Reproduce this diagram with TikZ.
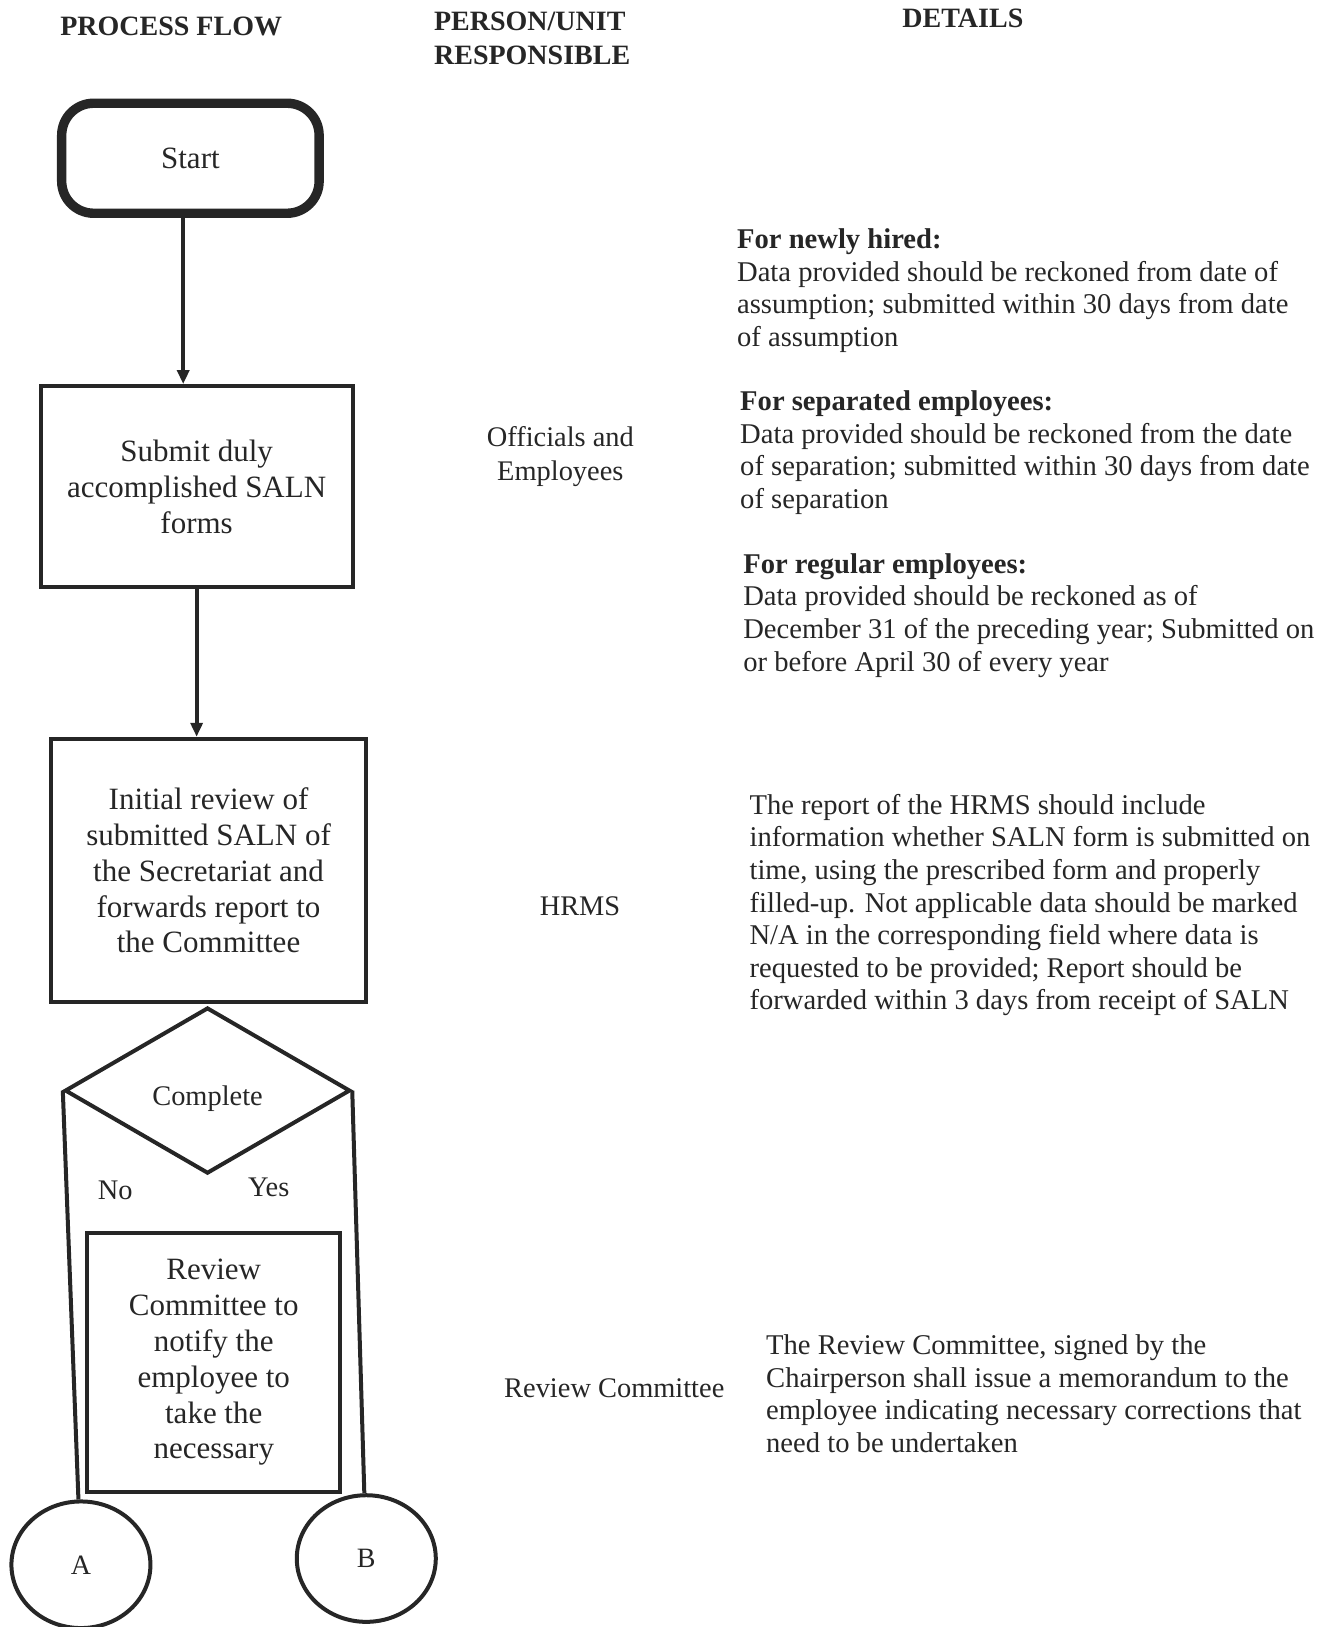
\documentclass[tikz,border=0pt]{standalone}
\usepackage{fontspec}
\setmainfont{Liberation Serif}
\usetikzlibrary{shapes.geometric,arrows.meta}
\definecolor{ink}{HTML}{262626}

\begin{document}
\begin{tikzpicture}[x=0.51875pt,y=-0.51875pt,
    inkline/.style={draw=ink,line width=2pt},
    procbox/.style={inkline,rectangle,align=center,inner sep=0pt,text=ink,font=\fontsize{15.5}{17.9}\selectfont},
    heading/.style={text=ink,inner sep=0pt,font=\fontsize{14}{17}\selectfont\bfseries},
    who/.style={text=ink,align=center,inner sep=0pt,font=\fontsize{14.2}{17}\selectfont},
    detail/.style={text=ink,align=left,anchor=north west,inner sep=0pt,font=\fontsize{14.3}{16.3}\selectfont},
    tag/.style={text=ink,inner sep=0pt,font=\fontsize{14.2}{17}\selectfont},
    flow/.style={inkline,-{Triangle[length=7pt,width=6pt]}}]

    \useasboundingbox (0,0) rectangle (1281,1568);

    % Column headings
    \node[heading] (hflow) at (165,25) {PROCESS FLOW};
    \node[heading,align=left,anchor=west] (hunit) at (418,37) {PERSON/UNIT\\RESPONSIBLE};
    \node[heading] (hdetails) at (928,18) {DETAILS};

    % Process flow
    \node[procbox,line width=4.7pt,rounded corners=16pt,minimum width=128.7pt,minimum height=55pt] (start) at (183.5,152.5) {Start};
    \node[procbox,minimum width=156pt,minimum height=100.6pt] (submit) at (189.5,469) {Submit duly\\accomplished SALN\\forms};
    \node[procbox,minimum width=157.7pt,minimum height=131.8pt] (initial) at (201,839) {Initial review of\\submitted SALN of\\the Secretariat and\\forwards report to\\the Committee};
    \node[procbox,diamond,minimum width=142.7pt,minimum height=83pt,text height=18pt,text depth=3pt,font=\fontsize{14.2}{17}\selectfont] (complete) at (200,1051) {Complete};
    \node[procbox,minimum width=126.6pt,minimum height=129.7pt] (notify) at (206,1313) {Review\\Committee to\\notify the\\employee to\\take the\\necessary};
    \node[procbox,ellipse,minimum width=69.5pt,minimum height=63.3pt,font=\fontsize{14}{17}\selectfont] (conA) at (78,1508) {A};
    \node[procbox,ellipse,minimum width=69.5pt,minimum height=63.3pt,font=\fontsize{14}{17}\selectfont] (conB) at (353,1502) {B};

    \draw[flow] ([xshift=-3.6pt]start.south) -- ([xshift=-3.6pt]start.south |- submit.north);
    \draw[flow] (submit.south) -- (submit.south |- initial.north);
    \draw[inkline] (complete.west) -- (conA);
    \draw[inkline] (complete.east) -- (conB);

    \node[tag] (no) at (111,1147) {No};
    \node[tag] (yes) at (259,1144) {Yes};

    % Person / unit responsible
    \node[who] (officials) at (540,440) {Officials and\\Employees};
    \node[who] (hrms) at (559,873) {HRMS};
    \node[who] (committee) at (592,1338) {Review Committee};

    % Details
    \node[detail] (newhired) at (710,220) {\textbf{For newly hired:}\\Data provided should be reckoned from date of\\assumption; submitted within 30 days from date\\of assumption};
    \node[detail] (separated) at (713,376) {\textbf{For separated employees:}\\Data provided should be reckoned from the date\\of separation; submitted within 30 days from date\\of separation};
    \node[detail] (regular) at (716,533) {\textbf{For regular employees:}\\Data provided should be reckoned as of\\December 31 of the preceding year; Submitted on\\or before April 30 of every year};
    \node[detail] (report) at (722,765) {The report of the HRMS should include\\information whether SALN form is submitted on\\time, using the prescribed form and properly\\filled-up. Not applicable data should be marked\\N/A in the corresponding field where data is\\requested to be provided; Report should be\\forwarded within 3 days from receipt of SALN};
    \node[detail] (memo) at (738,1286) {The Review Committee, signed by the\\Chairperson shall issue a memorandum to the\\employee indicating necessary corrections that\\need to be undertaken};
\end{tikzpicture}
\end{document}
